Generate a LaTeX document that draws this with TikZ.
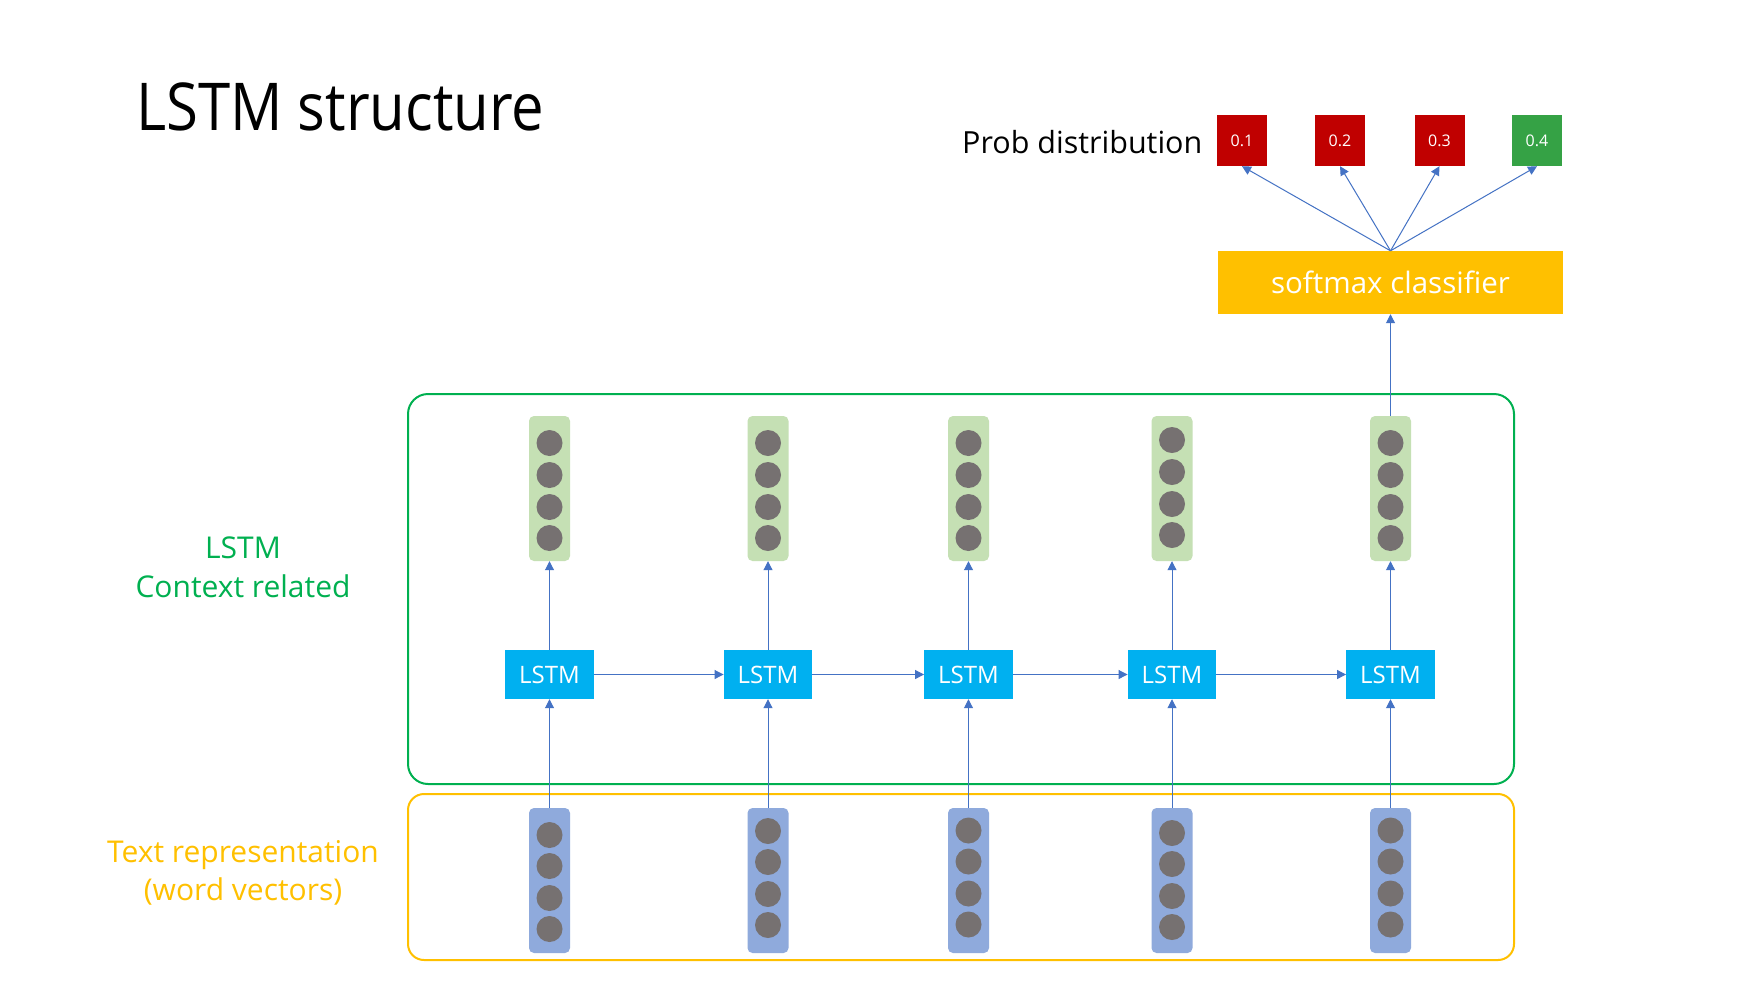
\documentclass[tikz,border=0pt]{standalone}
\usepackage{fontspec}
\setmainfont{Open Sans}
\newfontfamily\titlefont[FakeStretch=0.88]{Open Sans}
\usetikzlibrary{arrows.meta}
\definecolor{arrowblue}{HTML}{4472C4}
\definecolor{ctxgreen}{HTML}{00B050}
\definecolor{txtyellow}{HTML}{FFC000}
\definecolor{lstmblue}{HTML}{00B0F0}
\definecolor{bargreen}{HTML}{C5E0B4}
\definecolor{barblue}{HTML}{8FAADC}
\definecolor{dotgray}{HTML}{767171}
\definecolor{probred}{HTML}{C00000}
\definecolor{probgreen}{HTML}{35A245}
\begin{document}
\begin{tikzpicture}[x=1pt,y=-1pt,
  arr/.style={draw=arrowblue, line width=1pt, -{Triangle[length=9pt,width=9pt]}},
  lstmbox/.style={fill=lstmblue, minimum width=88.5pt, minimum height=49pt, inner sep=0pt, text=white, font=\fontsize{24}{28}\selectfont},
  gbar/.style={fill=bargreen, rounded corners=5pt, minimum width=41pt, minimum height=145pt, inner sep=0pt},
  bbar/.style={fill=barblue, rounded corners=5pt, minimum width=41pt, minimum height=145pt, inner sep=0pt},
  dot/.style={circle, fill=dotgray, minimum size=26pt, inner sep=0pt},
  pbox/.style={minimum width=50pt, minimum height=51pt, inner sep=0pt, text=white, font=\fontsize{16}{18}\selectfont},
  container/.style={draw, line width=2pt, minimum width=1106pt, inner sep=0pt},
  lbl/.style={anchor=base, inner sep=0pt, font=\fontsize{30}{36}\selectfont}
]
\useasboundingbox (0,0) rectangle (1755,986);
\fill[white] (0,0) rectangle (1755,986);

% containers
\node[container, draw=ctxgreen, rounded corners=20pt, minimum height=390pt] (ctx) at (961,589) {};
\node[container, draw=txtyellow, rounded corners=16pt, minimum height=166pt] (rep) at (961,877) {};

% title and labels
\node[anchor=base west, inner sep=0pt, font=\titlefont\fontsize{66}{72}\selectfont] (title) at (136,130) {LSTM structure};
\node[anchor=base west, inner sep=0pt, font=\fontsize{30.5}{34}\selectfont] (prob) at (962,153) {Prob distribution};
\node[lbl, text=ctxgreen] (ctxa) at (243,558) {LSTM};
\node[lbl, text=ctxgreen] (ctxb) at (243,597) {Context related};
\node[lbl, text=txtyellow] (repa) at (243,862) {Text representation};
\node[lbl, text=txtyellow] (repb) at (243,900) {(word vectors)};

% columns
\foreach \i/\x/\go/\bo in {1/549.5/0/0, 2/768/0/-4, 3/968.5/0/-4.5, 4/1172/-3/-2, 5/1390.5/0/-4.5}{
  \node[gbar] (g\i) at (\x,488.5) {};
  \foreach \k/\cy in {1/443,2/475,3/507,4/538}
    \node[dot] (gd\i\k) at (\x,{\cy+\go}) {};
  \node[bbar] (b\i) at (\x,880.5) {};
  \foreach \k/\cy in {1/835,2/866,3/898,4/929}
    \node[dot] (bd\i\k) at (\x,{\cy+\bo}) {};
  \node[lstmbox] (l\i) at (\x,674.5) {LSTM};
  \draw[arr] (b\i.north) -- (l\i.south);
  \draw[arr] (l\i.north) -- (g\i.south);
}
\foreach \i/\j in {1/2,2/3,3/4,4/5}
  \draw[arr] (l\i.east) -- (l\j.west);

% classifier
\node[fill=txtyellow, minimum width=345pt, minimum height=63pt, inner sep=0pt, text=white, font=\fontsize{29.5}{34}\selectfont] (soft) at (1390.5,282.5) {softmax classifier};
\draw[arr] (g5.north) -- (soft.south);

\node[pbox, fill=probred] (p1) at (1242,140.5) {0.1};
\node[pbox, fill=probred] (p2) at (1340,140.5) {0.2};
\node[pbox, fill=probred] (p3) at (1439.5,140.5) {0.3};
\node[pbox, fill=probgreen] (p4) at (1537,140.5) {0.4};
\foreach \i in {1,...,4}
  \draw[arr] (soft.north) -- (p\i.south);
\end{tikzpicture}
\end{document}
